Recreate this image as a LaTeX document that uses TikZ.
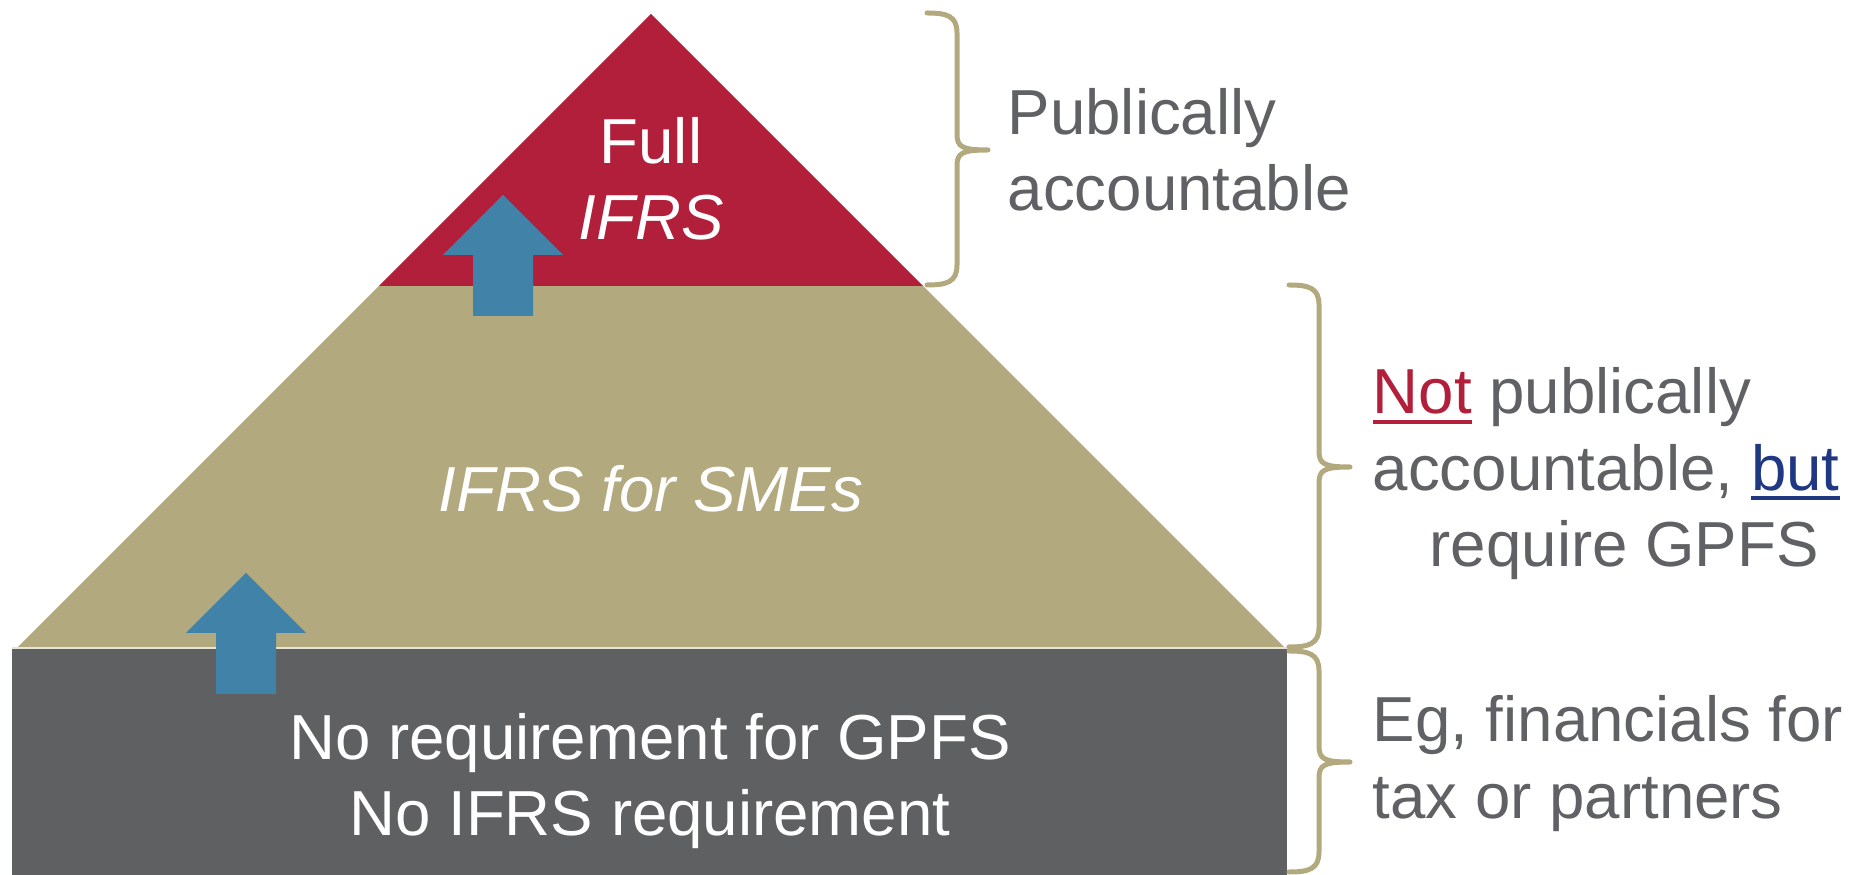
\documentclass[tikz,border=0pt]{standalone}
\usepackage{fontspec}
\setmainfont{Liberation Sans}
\usepackage{xcolor}
\usetikzlibrary{positioning}

\definecolor{fullred}{RGB}{178,31,59}
\definecolor{smetan}{RGB}{179,169,126}
\definecolor{basegray}{RGB}{95,96,98}
\definecolor{liftblue}{RGB}{65,131,168}
\definecolor{notegray}{RGB}{96,97,100}
\definecolor{butblue}{RGB}{32,56,130}

\newcommand{\marked}[2]{\textcolor{#1}{\setbox0\hbox{#2}\rlap{\rule[-2.8pt]{\wd0}{1.1pt}}\box0}}

% stem x, top, middle, bottom
\newcommand{\sidebrace}[4]{%
  \draw[bracket] ({#1-30},#2) .. controls ({#1-10},#2) and (#1,{#2+3}) .. (#1,{#2+20})
    -- (#1,{#3-16}) .. controls (#1,{#3-3}) and ({#1+5},#3) .. ({#1+31},#3)
    .. controls ({#1+5},#3) and (#1,{#3+3}) .. (#1,{#3+16})
    -- (#1,{#4-20}) .. controls (#1,{#4-3}) and ({#1-10},#4) .. ({#1-30},#4);
}

\begin{document}
\begin{tikzpicture}[
  x=0.1mm, y=-0.1mm,
  txt/.style={font=\fontsize{18.1}{21.8}\selectfont, inner sep=0pt},
  layertext/.style={txt, text=white, align=center},
  sidenote/.style={txt, text=notegray, align=left},
  bracket/.style={draw=smetan, line width=0.5mm, line cap=round, line join=round},
  pics/lift/.style={code={
    \fill[liftblue] (0,0) -- (60,60) -- (30,60) -- (30,121) -- (-30,121) -- (-30,60) -- (-60,60) -- cycle;
  }}
]
  \useasboundingbox (0,0) rectangle (1852,875);

  \fill[basegray] (12,648) rectangle (1287,875);
  \fill[smetan] (379,286) -- (923,286) -- (1285,648) -- (17,648) -- cycle;
  \fill[fullred] (651,14) -- (923,286) -- (379,286) -- cycle;
  \draw[smetan!30!white, line width=0.15mm] (12,648) -- (1287,648);

  \pic at (503,195) {lift};
  \pic at (246,573) {lift};

  % base anchors sit on the last line
  \node[layertext, anchor=base] (full) at (651,240) {Full\\\textit{IFRS}};
  \node[layertext, anchor=base] (smes) at (651,512) {\textit{IFRS for SMEs}};
  \node[layertext, anchor=base] (noreq) at (650,836) {No requirement for GPFS\\No IFRS requirement};

  \sidebrace{957}{13}{150}{285}
  \sidebrace{1319}{285}{467}{647}
  \sidebrace{1319}{651}{762}{872}

  \node[sidenote, anchor=base west] (pub) at (1007,211) {Publically\\accountable};
  \node[sidenote, anchor=base west] (notpub) at (1372,567)
    {\marked{fullred}{Not} publically\\accountable, \marked{butblue}{but}\\\hspace*{5.7mm}require GPFS};
  \node[sidenote, anchor=base west] (eg) at (1372,818) {Eg, financials for\\tax or partners};
\end{tikzpicture}
\end{document}
